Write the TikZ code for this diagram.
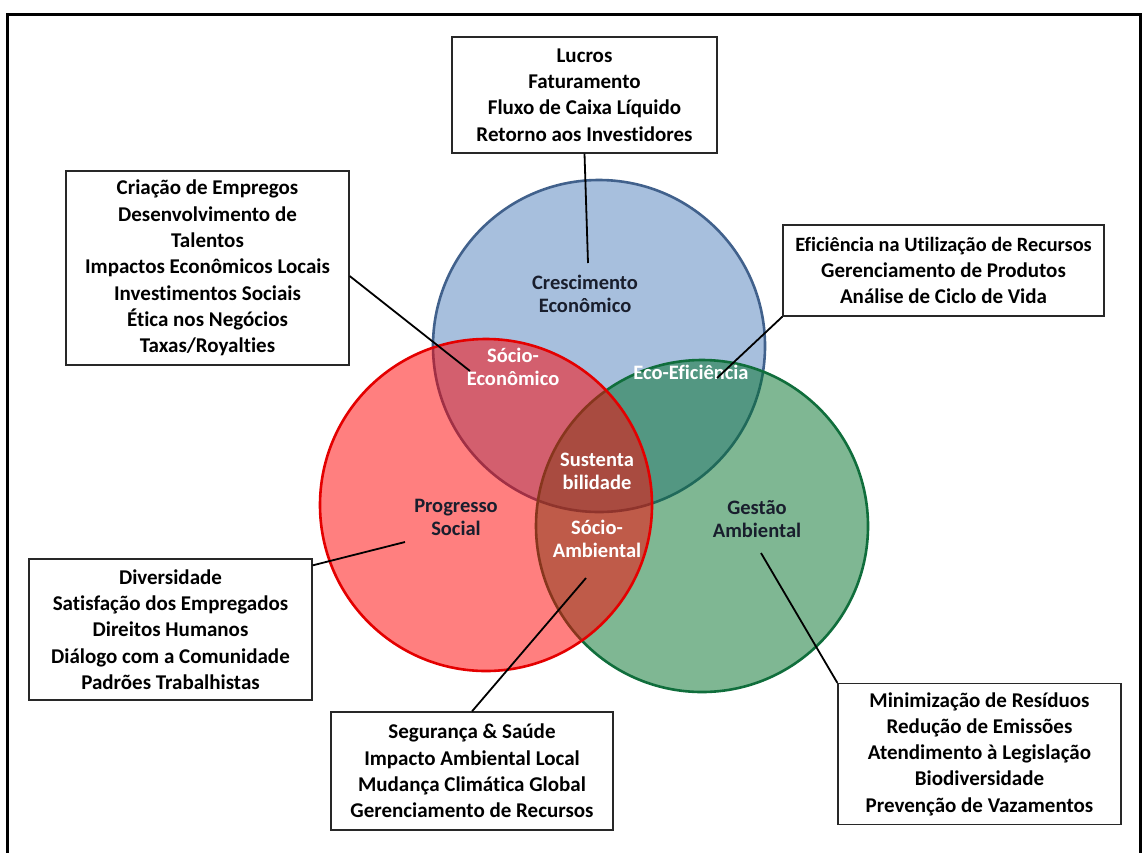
\documentclass[tikz,border=0pt]{standalone}
\usepackage{fontspec}
\setmainfont{Carlito}[Ligatures={NoCommon}]
\usetikzlibrary{calc}
\definecolor{bluefill}{RGB}{167,191,221}
\definecolor{blueline}{RGB}{65,97,140}
\definecolor{greenfill}{RGB}{0,113,41}
\definecolor{greenline}{RGB}{16,110,60}
\definecolor{redfill}{RGB}{255,0,0}
\definecolor{redline}{RGB}{228,0,0}
\definecolor{boxline}{RGB}{40,40,40}
\definecolor{darklabel}{RGB}{25,30,45}
\tikzset{
  infobox/.style={draw=boxline, line width=1.3pt, fill=white, inner sep=0pt, align=center,
    font=\bfseries\fontsize{21}{26.3}\selectfont},
  ring/.style={circle, inner sep=0pt, minimum size=332pt, line width=2.6pt},
  inlabel/.style={align=center, font=\bfseries\fontsize{20.5}{23}\selectfont},
  wlabel/.style={inlabel, text=white},
  blabel/.style={inlabel, text=darklabel},
  leader/.style={line width=1.8pt, black},
}
\begin{document}
\begin{tikzpicture}[x=1pt,y=-1pt]
\useasboundingbox (0,0) rectangle (1147,852);
\fill[white] (0,0) rectangle (1147,852);
% frame
\coordinate (f1) at (7,860);
\coordinate (f2) at (7,14);
\coordinate (f3) at (1140,14);
\coordinate (f4) at (1140,860);
\draw[line width=3pt, black] (f1) -- (f2) -- (f3) -- (f4);

% circles
\node[ring, draw=blueline, fill=bluefill] (cblue) at (599,346) {};
\node[ring, draw=greenline, fill=greenfill, fill opacity=0.5] (cgreen) at (702,526) {};
\node[ring, draw=redline, fill=redfill, fill opacity=0.5] (cred) at (486,505) {};

% circle labels
\node[blabel] (lcres) at (585,294) {Crescimento\\Econômico};
\node[wlabel] (lsocioeco) at (513,367) {Sócio-\\Econômico};
\node[wlabel] (leco) at (691,372) {Eco-Eficiência};
\node[wlabel] (lsust) at (597,471) {Sustenta\\bilidade};
\node[blabel] (lprog) at (456,517) {Progresso\\Social};
\node[wlabel] (lsocioamb) at (597,539) {Sócio-\\Ambiental};
\node[blabel] (lgest) at (757,519) {Gestão\\Ambiental};

% boxes
\node[infobox, minimum width=265pt, minimum height=116pt] (btop) at (584.5,95)
  {Lucros\\Faturamento\\Fluxo de Caixa Líquido\\Retorno aos Investidores};
\node[infobox, minimum width=283pt, minimum height=194pt] (bul) at (207.5,268)
  {Criação de Empregos\\Desenvolvimento de\\Talentos\\Impactos Econômicos Locais\\Investimentos Sociais\\Ética nos Negócios\\Taxas/Royalties};
\node[infobox, minimum width=321pt, minimum height=91pt] (bright) at (943.5,270.5)
  {\fontsize{20.3}{26.3}\selectfont Eficiência na Utilização de Recursos\\Gerenciamento de Produtos\\Análise de Ciclo de Vida};
\node[infobox, minimum width=283pt, minimum height=141pt] (bll) at (170.5,629.5)
  {Diversidade\\Satisfação dos Empregados\\Direitos Humanos\\Diálogo com a Comunidade\\Padrões Trabalhistas};
\node[infobox, minimum width=282pt, minimum height=118pt] (bbm) at (472,771)
  {Segurança \& Saúde\\Impacto Ambiental Local\\Mudança Climática Global\\Gerenciamento de Recursos};
\node[infobox, minimum width=283pt, minimum height=141pt] (bbr) at (979.5,754)
  {Minimização de Resíduos\\Redução de Emissões\\Atendimento à Legislação\\Biodiversidade\\Prevenção de Vazamentos};

% leader end points
\coordinate (ptop) at (588,263);
\coordinate (pul) at (470,371);
\coordinate (pright) at (717,378);
\coordinate (pll) at (405,542);
\coordinate (pbm) at (586,578);
\coordinate (pbr) at (761,553);

\draw[leader] (btop.south) -- (ptop);
\draw[leader] ($(bul.east)+(0,8)$) -- (pul);
\draw[leader] (bright.south west) -- (pright);
\draw[leader] ($(bll.north east)+(0,7)$) -- (pll);
\draw[leader] (bbm.north) -- (pbm);
\draw[leader] (bbr.north west) -- (pbr);
\end{tikzpicture}
\end{document}
